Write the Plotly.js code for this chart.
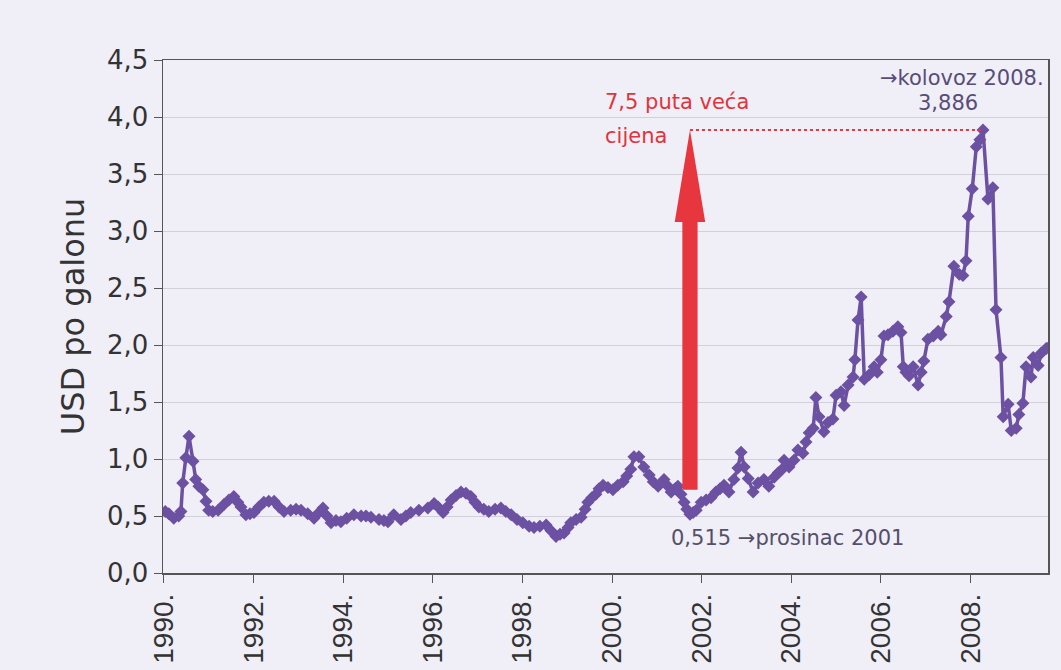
<!DOCTYPE html>
<html>
<head>
<meta charset="utf-8">
<script src="https://cdn.plot.ly/plotly-3.0.1.min.js"></script>
<style>
  html, body { margin: 0; padding: 0; background: #f0eef6; }
  #chart { width: 1061px; height: 670px; }
</style>
</head>
<body>
<div id="chart"></div>
<script>
// Decimal years and price in USD per gallon
const years = [
  1990.03, 1990.11, 1990.22, 1990.33, 1990.38, 1990.42, 1990.49, 1990.56, 1990.65, 1990.71,
  1990.78, 1990.87, 1990.94, 1991.00, 1991.09, 1991.21, 1991.34, 1991.45, 1991.56, 1991.65,
  1991.72, 1991.83, 1991.92, 1992.01, 1992.12, 1992.23, 1992.34, 1992.46, 1992.57, 1992.68,
  1992.83, 1992.95, 1993.06, 1993.21, 1993.35, 1993.46, 1993.55, 1993.64, 1993.73, 1993.84,
  1993.95, 1994.08, 1994.24, 1994.40, 1994.51, 1994.62, 1994.80, 1994.91, 1995.00, 1995.13,
  1995.29, 1995.40, 1995.51, 1995.69, 1995.89, 1996.03, 1996.12, 1996.23, 1996.32, 1996.41,
  1996.52, 1996.63, 1996.74, 1996.85, 1996.94, 1997.03, 1997.14, 1997.25, 1997.39, 1997.52,
  1997.63, 1997.75, 1997.88, 1998.01, 1998.15, 1998.26, 1998.39, 1998.53, 1998.64, 1998.75,
  1998.84, 1998.93, 1999.02, 1999.08, 1999.20, 1999.31, 1999.40, 1999.46, 1999.55, 1999.64,
  1999.71, 1999.80, 1999.91, 2000.02, 2000.13, 2000.25, 2000.33, 2000.42, 2000.49, 2000.60,
  2000.71, 2000.83, 2000.92, 2001.03, 2001.16, 2001.25, 2001.32, 2001.41, 2001.47, 2001.54,
  2001.61, 2001.67, 2001.74, 2001.81, 2001.88, 2001.99, 2002.10, 2002.21, 2002.32, 2002.41,
  2002.50, 2002.61, 2002.72, 2002.81, 2002.88, 2002.95, 2003.04, 2003.15, 2003.26, 2003.39,
  2003.50, 2003.62, 2003.71, 2003.77, 2003.84, 2003.95, 2004.06, 2004.15, 2004.26, 2004.33,
  2004.40, 2004.49, 2004.55, 2004.62, 2004.73, 2004.82, 2004.93, 2005.00, 2005.11, 2005.18,
  2005.27, 2005.38, 2005.42, 2005.49, 2005.56, 2005.63, 2005.74, 2005.85, 2005.92, 2006.00,
  2006.07, 2006.16, 2006.27, 2006.38, 2006.45, 2006.50, 2006.56, 2006.63, 2006.72, 2006.83,
  2006.90, 2006.96, 2007.05, 2007.17, 2007.28, 2007.34, 2007.46, 2007.52, 2007.63, 2007.75,
  2007.83, 2007.90, 2007.95, 2008.04, 2008.13, 2008.21, 2008.28, 2008.39, 2008.50, 2008.57,
  2008.68, 2008.73, 2008.84, 2008.91, 2009.02, 2009.08, 2009.17, 2009.24, 2009.35, 2009.40,
  2009.51, 2009.58, 2009.69, 2009.75
];
const price = [
  0.54, 0.52, 0.48, 0.50, 0.54, 0.79, 1.01, 1.20, 0.98, 0.82,
  0.76, 0.73, 0.63, 0.55, 0.54, 0.55, 0.60, 0.64, 0.67, 0.62,
  0.58, 0.51, 0.52, 0.53, 0.58, 0.62, 0.63, 0.63, 0.58, 0.54,
  0.55, 0.56, 0.55, 0.52, 0.48, 0.53, 0.57, 0.50, 0.44, 0.46,
  0.45, 0.48, 0.51, 0.50, 0.50, 0.49, 0.47, 0.46, 0.45, 0.51,
  0.47, 0.50, 0.53, 0.55, 0.57, 0.61, 0.58, 0.53, 0.58, 0.64,
  0.68, 0.71, 0.70, 0.67, 0.62, 0.58, 0.56, 0.54, 0.56, 0.57,
  0.54, 0.51, 0.47, 0.44, 0.41, 0.40, 0.41, 0.42, 0.37, 0.32,
  0.34, 0.35, 0.40, 0.44, 0.47, 0.49, 0.56, 0.62, 0.66, 0.69,
  0.74, 0.77, 0.75, 0.73, 0.77, 0.80, 0.85, 0.91, 1.02, 1.02,
  0.93, 0.86, 0.80, 0.76, 0.82, 0.76, 0.71, 0.74, 0.76, 0.69,
  0.62, 0.56, 0.515, 0.53, 0.55, 0.62, 0.64, 0.66, 0.71, 0.74,
  0.77, 0.71, 0.82, 0.92, 1.06, 0.93, 0.83, 0.71, 0.79, 0.82,
  0.76, 0.84, 0.88, 0.90, 0.99, 0.93, 0.99, 1.08, 1.05, 1.15,
  1.23, 1.27, 1.54, 1.37, 1.24, 1.32, 1.35, 1.56, 1.59, 1.47,
  1.65, 1.72, 1.87, 2.22, 2.42, 1.70, 1.74, 1.81, 1.76, 1.87,
  2.08, 2.09, 2.12, 2.16, 2.11, 1.81, 1.76, 1.73, 1.81, 1.65,
  1.76, 1.86, 2.05, 2.08, 2.12, 2.09, 2.25, 2.38, 2.69, 2.62,
  2.61, 2.74, 3.13, 3.37, 3.74, 3.80, 3.886, 3.28, 3.38, 2.31,
  1.89, 1.37, 1.48, 1.25, 1.27, 1.39, 1.49, 1.81, 1.72, 1.89,
  1.82, 1.93, 1.97, 1.98
];
const yTicks = [0, 0.5, 1, 1.5, 2, 2.5, 3, 3.5, 4, 4.5];
const xTickYears = [1990, 1992, 1994, 1996, 1998, 2000, 2002, 2004, 2006, 2008];
const xTickText = xTickYears.map(y => y + '.');

const yTitle = 'USD po galonu';
const ratioLine1 = '7,5 puta veća';
const ratioLine2 = 'cijena';
const peakLabel = '→kolovoz 2008.';
const lowLabel = '→prosinac 2001';
const lowSearchFrom = 2001; // the marked low lies in late 2001

// locate the marked low (late 2001) and the overall peak from the data
let iMin = -1, iMax = 0;
price.forEach((v, i) => {
  if (years[i] >= lowSearchFrom && years[i] < lowSearchFrom + 1 && (iMin < 0 || v < price[iMin])) iMin = i;
  if (v > price[iMax]) iMax = i;
});
const xLow = years[iMin], yLow = price[iMin];
const xPeak = years[iMax], yPeak = price[iMax];
const fmt = v => v.toFixed(3).replace('.', ',');

const purple = '#6c51a3';
const red = '#e8363f';

const trace = {
  x: years, y: price, type: 'scatter', mode: 'lines+markers',
  line: { color: purple, width: 3.5 },
  marker: { symbol: 'diamond', size: 10, color: purple },
  hoverinfo: 'x+y'
};

// arrow geometry (data units)
const shaftHalf = 0.17, headHalf = 0.34;
const arrowBottom = 0.73, headBase = 3.08;
const arrowPath = `M ${xLow - shaftHalf} ${arrowBottom} L ${xLow - shaftHalf} ${headBase} L ${xLow - headHalf} ${headBase} L ${xLow} ${yPeak} L ${xLow + headHalf} ${headBase} L ${xLow + shaftHalf} ${headBase} L ${xLow + shaftHalf} ${arrowBottom} Z`;

const layout = {
  width: 1061, height: 670,
  paper_bgcolor: '#f0eef6', plot_bgcolor: '#f0eef6',
  margin: { l: 163, r: 13, t: 60, b: 97 },
  separators: ',.',
  showlegend: false,
  font: { family: 'DejaVu Sans, sans-serif', color: '#333' },
  xaxis: {
    range: [1989.98, 2009.73],
    tickvals: xTickYears, ticktext: xTickText, tickangle: -90,
    tickfont: { family: 'Liberation Sans, Arial, sans-serif', size: 28, color: '#333' },
    ticks: 'outside', ticklen: 8, tickcolor: '#555', tickwidth: 1,
    showgrid: false, zeroline: false,
    showline: true, linecolor: '#555', linewidth: 1.5, mirror: true
  },
  yaxis: {
    range: [0, 4.5],
    tickvals: yTicks, tickformat: '.1f',
    tickfont: { family: 'DejaVu Sans, sans-serif', size: 26, color: '#333' },
    ticks: 'outside', ticklen: 8, tickcolor: '#555', tickwidth: 1,
    showgrid: true, gridcolor: '#d2d0d8', gridwidth: 1,
    zeroline: false,
    showline: true, linecolor: '#555', linewidth: 1.5, mirror: true,
    title: { text: yTitle, font: { family: 'DejaVu Sans, sans-serif', size: 32, color: '#333' }, standoff: 12 }
  },
  shapes: [
    { type: 'line', xref: 'x', yref: 'y', x0: xLow, x1: xPeak, y0: yPeak, y1: yPeak,
      line: { color: red, width: 2, dash: 'dot' }, layer: 'above' },
    { type: 'path', xref: 'x', yref: 'y', path: arrowPath,
      fillcolor: red, line: { width: 0 }, layer: 'above' }
  ],
  annotations: [
    { xref: 'x', yref: 'y', x: 1999.80, y: 4.13, xanchor: 'left', yanchor: 'middle',
      text: ratioLine1, showarrow: false, font: { family: 'DejaVu Sans, sans-serif', size: 21, color: '#e0343c' } },
    { xref: 'x', yref: 'y', x: 1999.80, y: 3.83, xanchor: 'left', yanchor: 'middle',
      text: ratioLine2, showarrow: false, font: { family: 'DejaVu Sans, sans-serif', size: 21, color: '#e0343c' } },
    { xref: 'paper', yref: 'y', x: 0.998, y: 4.34, xanchor: 'right', yanchor: 'middle',
      text: peakLabel, showarrow: false, font: { family: 'DejaVu Sans, sans-serif', size: 21, color: '#574d78' } },
    { xref: 'x', yref: 'y', x: 2007.50, y: 4.12, xanchor: 'center', yanchor: 'middle',
      text: fmt(yPeak), showarrow: false, font: { family: 'DejaVu Sans, sans-serif', size: 21, color: '#574d78' } },
    { xref: 'x', yref: 'y', x: 2001.27, y: 0.31, xanchor: 'left', yanchor: 'middle',
      text: fmt(yLow) + ' ' + lowLabel, showarrow: false, font: { family: 'DejaVu Sans, sans-serif', size: 21, color: '#55506a' } }
  ]
};

Plotly.newPlot('chart', [trace], layout, { displayModeBar: false, staticPlot: true });
</script>
</body>
</html>
